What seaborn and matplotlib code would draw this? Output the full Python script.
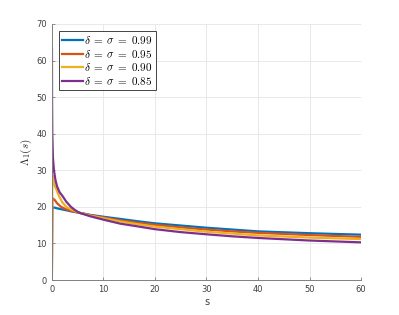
import numpy as np
import pandas as pd
import matplotlib
matplotlib.use('Agg')
import matplotlib.pyplot as plt
import seaborn as sns

# valores
labels = [r'$\delta\;=\;\sigma\;=\;0.99$', r'$\delta\;=\;\sigma\;=\;0.95$',
          r'$\delta\;=\;\sigma\;=\;0.90$', r'$\delta\;=\;\sigma\;=\;0.85$']
colores = ['#0072BD', '#D95319', '#EDB120', '#7E2F8E']

s_099 = [0, 0.05, 0.5, 1, 2, 3, 4, 5.3, 7.5, 10, 13.3, 16.5, 20, 25, 30, 35, 40, 50, 60]
y_099 = [0, 19.8, 19.8, 19.6, 19.3, 19.0, 18.7, 18.4, 17.8, 17.3, 16.7, 16.1, 15.5,
         14.9, 14.3, 13.8, 13.3, 12.8, 12.4]

s_095 = [0, 0.1, 0.3, 0.6, 1, 1.8, 2.5, 3.5, 4.3, 5.3, 7.5, 10, 13.3, 16.5, 20, 25,
         30, 35, 40, 50, 60]
y_095 = [0, 22.3, 22.2, 21.8, 21.0, 20.0, 19.5, 19.0, 18.7, 18.4, 17.7, 17.1, 16.3,
         15.7, 15.1, 14.4, 13.8, 13.3, 12.9, 12.3, 11.8]

s_090 = [0, 0.1, 0.2, 0.4, 0.6, 1, 1.4, 2, 2.8, 4, 5.3, 7.5, 10, 13.3, 16.5, 20, 25,
         30, 35, 40, 50, 60]
y_090 = [0, 28.6, 28.0, 26.6, 25.6, 24.3, 22.9, 21.3, 20.0, 19.1, 18.4, 17.6, 16.9,
         16.0, 15.3, 14.6, 13.9, 13.2, 12.7, 12.2, 11.6, 11.2]

s_085 = [0, 0.01, 0.03, 0.08, 0.2, 0.4, 0.7, 1, 1.5, 2.1, 2.8, 3.7, 4.5, 5.3, 7.5, 10,
         13.3, 16.5, 20, 25, 30, 35, 40, 50, 60]
y_085 = [0, 63.5, 50.0, 40.0, 33.5, 30.0, 27.3, 25.6, 24.0, 22.9, 21.4, 20.0, 19.1,
         18.4, 17.4, 16.5, 15.4, 14.7, 13.9, 13.1, 12.5, 11.95, 11.5, 10.8, 10.3]

series = [(s_099, y_099), (s_095, y_095), (s_090, y_090), (s_085, y_085)]
filas = []
for lab, (xs, ys) in zip(labels, series):
    for x, y in zip(xs, ys):
        filas.append({'s': x, 'L': y, 'caso': lab})
df = pd.DataFrame(filas)

plt.rcParams['mathtext.fontset'] = 'cm'
plt.rcParams['font.family'] = ['DejaVu Sans']

fig = plt.figure(figsize=(3.99, 3.15), dpi=100)
ax = fig.add_axes([0.130, 0.111, 0.775, 0.813])

sns.lineplot(data=df, x='s', y='L', hue='caso', hue_order=labels,
             palette=colores, estimator=None, sort=False, linewidth=1.6, ax=ax)

ax.set_xlim(0, 60)
ax.set_ylim(0, 70)
ax.set_xticks([0, 10, 20, 30, 40, 50, 60])
ax.set_yticks([0, 10, 20, 30, 40, 50, 60, 70])
ax.grid(True, color='#e5e5e5', linewidth=0.6)
ax.set_axisbelow(True)
for lado in ['top', 'right']:
    ax.spines[lado].set_visible(False)
for lado in ['left', 'bottom']:
    ax.spines[lado].set_color('#808080')
    ax.spines[lado].set_linewidth(0.7)
ax.tick_params(direction='in', length=2.5, width=0.6, colors='#808080',
               labelsize=6, labelcolor='#404040')

ax.set_xlabel('s', fontsize=7, color='#404040', labelpad=2)
ax.set_ylabel(r'$\Lambda_1(s)$', fontsize=8, color='#262626', labelpad=2)

leg = ax.legend(loc='upper left', fontsize=8, handlelength=1.9, handletextpad=0.1,
                borderaxespad=0.6, borderpad=0.3, labelspacing=0.15,
                fancybox=False, framealpha=1, edgecolor='#262626', title=None)
leg.get_frame().set_linewidth(0.6)

fig.savefig('out.png', dpi=100)
